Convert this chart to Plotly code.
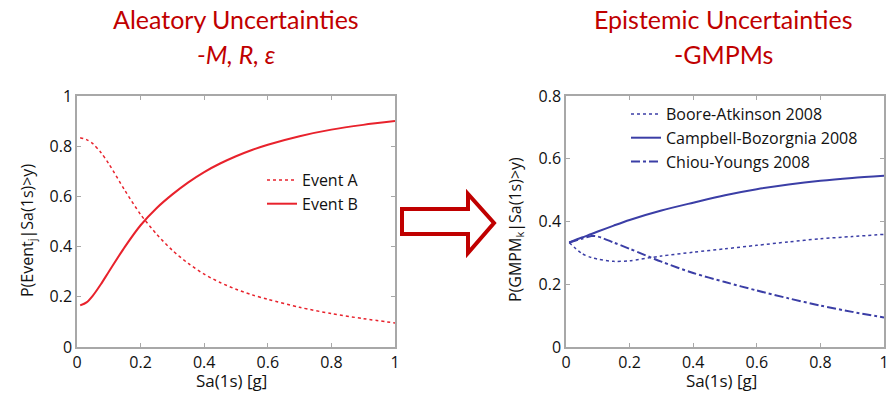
import plotly.graph_objects as go

# ---- data ----
sa_left = [0.01, 0.03, 0.05, 0.075, 0.1, 0.15, 0.2, 0.25, 0.3, 0.35, 0.4, 0.45, 0.5, 0.55, 0.6, 0.7, 0.8, 0.9, 1.0]
event_a = [0.834, 0.826, 0.81, 0.775, 0.73, 0.625, 0.528, 0.45, 0.385, 0.333, 0.29, 0.257, 0.23, 0.208, 0.19, 0.158, 0.133, 0.113, 0.096]
event_b = [0.166, 0.178, 0.205, 0.25, 0.300, 0.398, 0.485, 0.553, 0.608, 0.656, 0.697, 0.731, 0.760, 0.785, 0.806, 0.840, 0.866, 0.885, 0.90]

sa_right = [0.01, 0.05, 0.08, 0.1, 0.15, 0.2, 0.3, 0.4, 0.5, 0.6, 0.7, 0.8, 0.9, 1.0]
boore = [0.333, 0.298, 0.285, 0.28, 0.273, 0.275, 0.29, 0.302, 0.313, 0.324, 0.335, 0.345, 0.352, 0.359]
campbell = [0.333, 0.349, 0.360, 0.368, 0.387, 0.405, 0.435, 0.460, 0.484, 0.503, 0.518, 0.530, 0.539, 0.546]
chiou = [0.333, 0.345, 0.354, 0.352, 0.333, 0.313, 0.272, 0.236, 0.207, 0.180, 0.155, 0.132, 0.112, 0.094]

x_ticks = [0, 0.2, 0.4, 0.6, 0.8, 1]
x_ticklabels = ["0", "0.2", "0.4", "0.6", "0.8", "1"]
yl_ticks = [0, 0.2, 0.4, 0.6, 0.8, 1]
yl_ticklabels = ["0", "0.2", "0.4", "0.6", "0.8", "1"]
yr_ticks = [0, 0.2, 0.4, 0.6, 0.8]
yr_ticklabels = ["0", "0.2", "0.4", "0.6", "0.8"]

RED = "#E8222C"
BLUE = "#3B3EA6"
TITLE_RED = "#C00000"
FRAME = "#A8A8A8"
W, H = 895, 393

def px(x):
    return x / W

def py(y):
    return 1 - y / H

fig = go.Figure()
fig.add_trace(go.Scatter(x=sa_left, y=event_a, mode="lines", name="Event A",
                         line=dict(color=RED, width=1.5, dash="dot", shape="spline", smoothing=0.8),
                         xaxis="x", yaxis="y", legend="legend"))
fig.add_trace(go.Scatter(x=sa_left, y=event_b, mode="lines", name="Event B",
                         line=dict(color=RED, width=2, shape="spline", smoothing=0.8),
                         xaxis="x", yaxis="y", legend="legend"))
fig.add_trace(go.Scatter(x=sa_right, y=boore, mode="lines", name="Boore-Atkinson 2008",
                         line=dict(color=BLUE, width=1.5, dash="dot", shape="spline", smoothing=0.8),
                         xaxis="x2", yaxis="y2", legend="legend2"))
fig.add_trace(go.Scatter(x=sa_right, y=campbell, mode="lines", name="Campbell-Bozorgnia 2008",
                         line=dict(color=BLUE, width=2, shape="spline", smoothing=0.8),
                         xaxis="x2", yaxis="y2", legend="legend2"))
fig.add_trace(go.Scatter(x=sa_right, y=chiou, mode="lines", name="Chiou-Youngs 2008",
                         line=dict(color=BLUE, width=2, dash="dashdot", shape="spline", smoothing=0.8),
                         xaxis="x2", yaxis="y2", legend="legend2"))

tickfont = dict(family="Open Sans", size=16, color="#111111")
axis_common = dict(showgrid=False, zeroline=False, showline=True, linecolor=FRAME, linewidth=1.5,
                   mirror="ticks", ticks="inside", ticklen=4, tickcolor=FRAME, tickwidth=1,
                   tickfont=tickfont, automargin=False)

ydom = [py(347), py(96)]
fig.update_layout(
    width=W, height=H,
    margin=dict(l=0, r=0, t=0, b=0, pad=0),
    paper_bgcolor="white", plot_bgcolor="white",
    xaxis=dict(domain=[px(77), px(395)], range=[0, 1], tickvals=x_ticks, ticktext=x_ticklabels,
               anchor="y", **axis_common),
    yaxis=dict(domain=ydom, range=[0, 1], tickvals=yl_ticks, ticktext=yl_ticklabels,
               anchor="x", **axis_common),
    xaxis2=dict(domain=[px(566), px(884)], range=[0, 1], tickvals=x_ticks, ticktext=x_ticklabels,
                anchor="y2", **axis_common),
    yaxis2=dict(domain=ydom, range=[0, 0.8], tickvals=yr_ticks, ticktext=yr_ticklabels,
                anchor="x2", **axis_common),
    legend=dict(x=px(262), y=py(163), xanchor="left", yanchor="top", bgcolor="rgba(0,0,0,0)",
                font=dict(family="Open Sans", size=16, color="#111111"), tracegroupgap=0,
                itemwidth=30),
    legend2=dict(x=px(626), y=py(97), xanchor="left", yanchor="top", bgcolor="rgba(0,0,0,0)",
                 font=dict(family="Open Sans", size=16, color="#111111"), tracegroupgap=0,
                 itemwidth=30),
    showlegend=True,
)

ann_font = dict(family="Open Sans", size=16, color="#111111")
titles = [
    dict(text="Aleatory Uncertainties", x=px(236), y=py(19)),
    dict(text="<i>-M, R, ε</i>", x=px(236), y=py(54)),
    dict(text="Epistemic Uncertainties", x=px(723), y=py(19)),
    dict(text="-GMPMs", x=px(723), y=py(54)),
]
for a in titles:
    fig.add_annotation(xref="paper", yref="paper", x=a["x"], y=a["y"], text=a["text"],
                       showarrow=False, xanchor="center", yanchor="middle",
                       font=dict(family="Lato", size=25, color=TITLE_RED))

xt_font = dict(family="Open Sans", size=17, color="#111111")
fig.add_annotation(xref="paper", yref="paper", x=px(231), y=py(380.5), text="Sa(1s) [g]",
                   showarrow=False, xanchor="center", yanchor="middle", font=xt_font)
fig.add_annotation(xref="paper", yref="paper", x=px(721), y=py(380.5), text="Sa(1s) [g]",
                   showarrow=False, xanchor="center", yanchor="middle", font=xt_font)
fig.add_annotation(xref="paper", yref="paper", x=px(27), y=py(231),
                   text="P(Event<sub>j</sub>|Sa(1s)>y)", textangle=-90,
                   showarrow=False, xanchor="center", yanchor="middle", font=ann_font)
fig.add_annotation(xref="paper", yref="paper", x=px(515), y=py(230),
                   text="P(GMPM<sub>k</sub>|Sa(1s)>y)", textangle=-90,
                   showarrow=False, xanchor="center", yanchor="middle", font=ann_font)

# block arrow outline
pts = [(402, 209), (468, 209), (468, 194), (494, 223), (468, 253), (468, 234), (402, 234)]
path = "M " + " L ".join(f"{px(x)},{py(y)}" for x, y in pts) + " Z"
fig.add_shape(type="path", xref="paper", yref="paper", path=path,
              line=dict(color=TITLE_RED, width=4), fillcolor="white")

fig.write_html("out.html", config={"displayModeBar": False},
               post_script="document.body.style.margin='0';document.body.style.overflow='hidden';")
